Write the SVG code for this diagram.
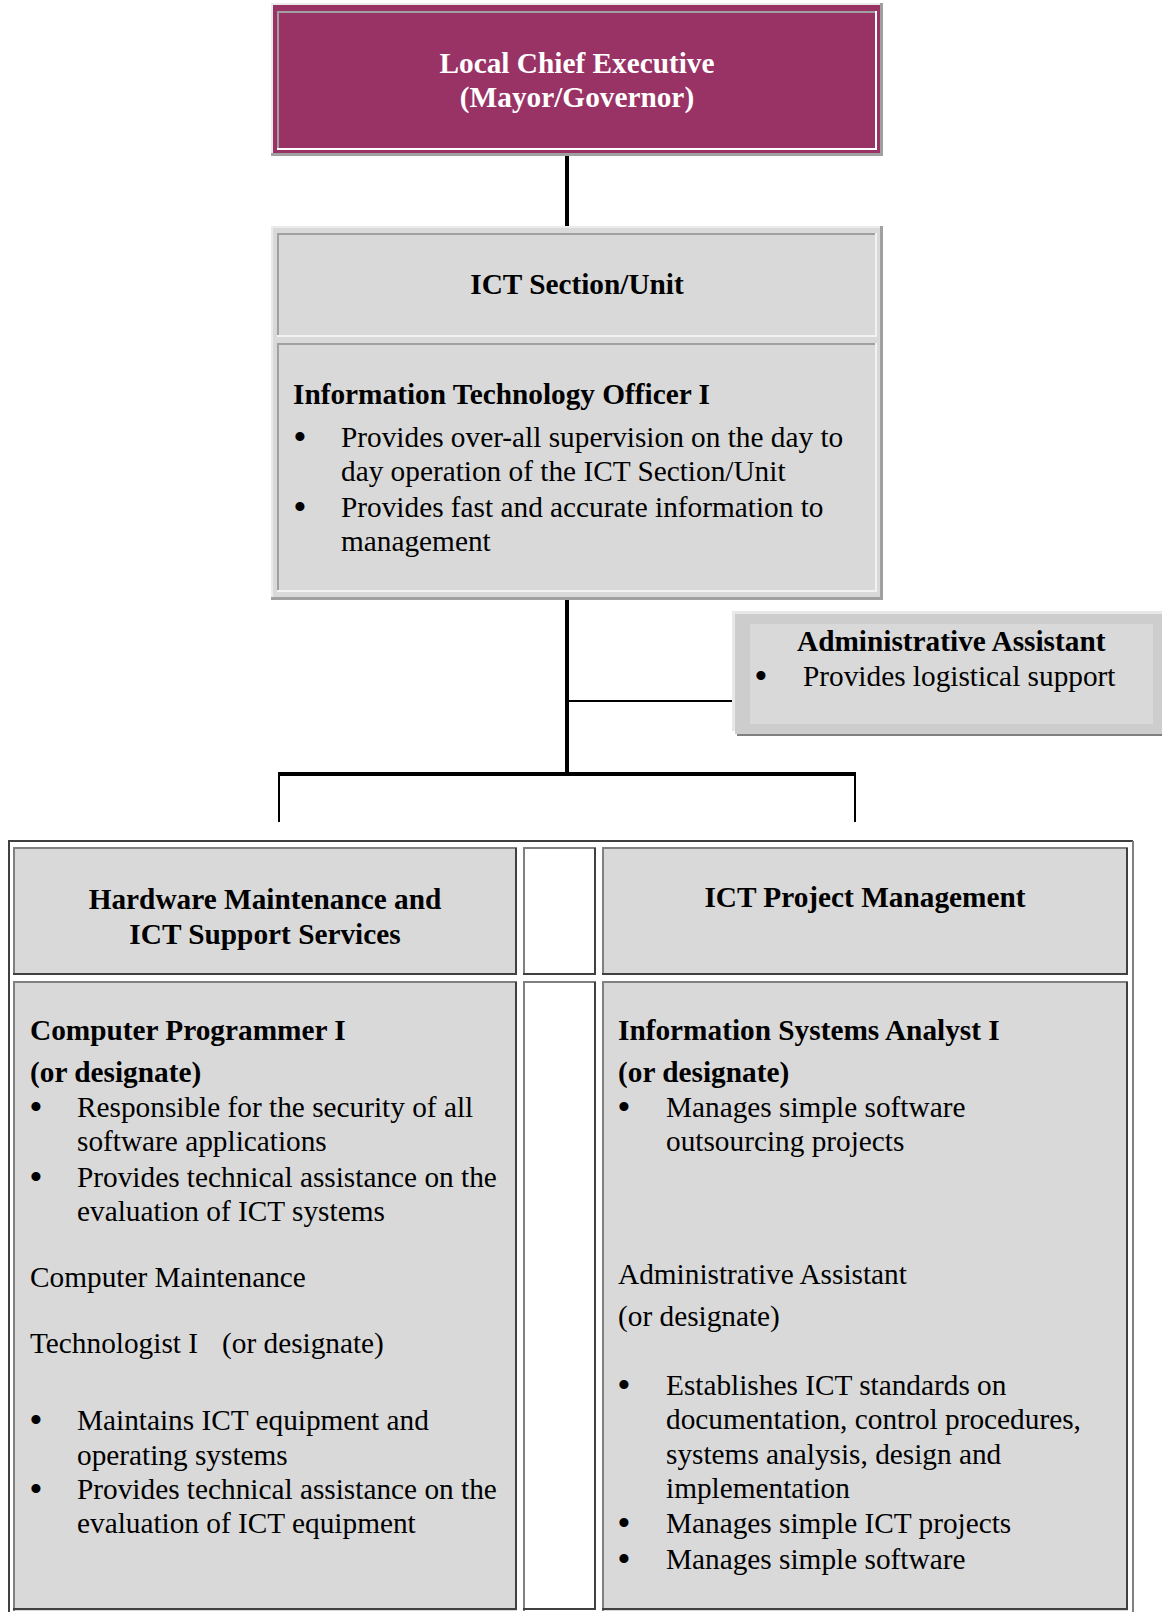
<svg xmlns="http://www.w3.org/2000/svg" width="1162" height="1612" viewBox="0 0 1162 1612">
<style>
.t{font-family:"Liberation Serif","Times New Roman",serif;font-size:29.3px;fill:#000}
.bu{font-family:"Liberation Serif","Times New Roman",serif;font-size:38px;fill:#000;text-anchor:middle}
.b{font-weight:bold}
.w{fill:#fff}
.c{text-anchor:middle}
.g{fill:#d9d9d9}
.hi{fill:none;stroke:#808080;stroke-width:2}
.lo{fill:none;stroke:#404040;stroke-width:2}
.con{fill:none;stroke:#000}
</style>
<rect width="1162" height="1612" fill="#fff"/>

<g id="connectors">
<line class="con" x1="567" y1="156" x2="567" y2="228" stroke-width="4"/>
<line class="con" x1="567" y1="600" x2="567" y2="776" stroke-width="4"/>
<line class="con" x1="567" y1="701" x2="735" y2="701" stroke-width="2"/>
<line class="con" x1="278" y1="774" x2="856" y2="774" stroke-width="4"/>
<line class="con" x1="279" y1="772" x2="279" y2="822" stroke-width="2"/>
<line class="con" x1="855" y1="772" x2="855" y2="822" stroke-width="2"/>
</g>

<g id="lce">
<rect x="271" y="3" width="612" height="153" fill="#a0a0a0"/>
<rect x="271" y="3" width="609" height="150" fill="#ebebeb"/>
<rect x="273" y="5" width="607" height="148" fill="#993366"/>
<rect x="277" y="11" width="600" height="139" fill="#fff"/>
<rect x="277" y="11" width="598" height="137" fill="#a0a0a0"/>
<rect x="279" y="13" width="596" height="135" fill="#993366"/>
<text class="t b w c" x="577" y="73">Local Chief Executive</text>
<text class="t b w c" x="577" y="107">(Mayor/Governor)</text>
</g>

<g id="ict">
<rect x="271" y="226" width="612" height="374" fill="#a0a0a0"/>
<rect x="271" y="226" width="609" height="371" fill="#ebebeb"/>
<rect x="273" y="228" width="607" height="369" fill="#d9d9d9"/>
<rect x="277" y="233" width="600" height="104" fill="#f2f2f2"/>
<rect x="277" y="233" width="598" height="102" fill="#a0a0a0"/>
<rect x="279" y="235" width="596" height="100" fill="#d9d9d9"/>
<rect x="277" y="343" width="600" height="249" fill="#f2f2f2"/>
<rect x="277" y="343" width="598" height="247" fill="#a0a0a0"/>
<rect x="279" y="345" width="596" height="245" fill="#d9d9d9"/>
<text class="t b c" x="577" y="294">ICT Section/Unit</text>
<text class="t b" x="293" y="404">Information Technology Officer I</text>
<text class="bu" x="300" y="450">•</text>
<text class="t" x="341" y="447">Provides over-all supervision on the day to</text>
<text class="t" x="341" y="481">day operation of the ICT Section/Unit</text>
<text class="bu" x="300" y="520">•</text>
<text class="t" x="341" y="517">Provides fast and accurate information to</text>
<text class="t" x="341" y="551">management</text>
</g>

<g id="admin">
<rect x="732" y="611" width="430" height="120" fill="#e8e8e8"/>
<rect x="737" y="616" width="425" height="120" fill="#808080"/>
<rect x="735" y="614" width="427" height="120" fill="#cdcdcd"/>
<rect x="750" y="624" width="403" height="100" fill="#d9d9d9"/>
<text class="t b" x="797" y="651">Administrative Assistant</text>
<text class="bu" x="761" y="689">•</text>
<text class="t" x="803" y="686">Provides logistical support</text>
</g>

<g id="table">
<path class="lo" d="M9 1612 V841 H1133"/>
<path class="hi" d="M1133 841 V1612"/>
</g>

<g id="hw-head">
<rect class="g" x="13" y="847" width="504" height="128"/>
<path class="hi" d="M14 975 V848 H517"/>
<path class="lo" d="M516 848 V974 H13"/>
<text class="t b c" x="265" y="909">Hardware Maintenance and</text>
<text class="t b c" x="265" y="944">ICT Support Services</text>
</g>

<g id="mid-head">
<rect x="523" y="847" width="73" height="128" fill="#fff"/>
<path class="hi" d="M524 975 V848 H596"/>
<path class="lo" d="M595 848 V974 H523"/>
</g>

<g id="pm-head">
<rect class="g" x="602" y="847" width="526" height="128"/>
<path class="hi" d="M603 975 V848 H1128"/>
<path class="lo" d="M1127 848 V974 H602"/>
<text class="t b c" x="865" y="907">ICT Project Management</text>
</g>

<g id="hw-body">
<rect class="g" x="13" y="981" width="504" height="630"/>
<path class="hi" d="M14 1611 V982 H517"/>
<path class="lo" d="M516 982 V1609 H13"/>
<text class="t b" x="30" y="1040">Computer Programmer I</text>
<text class="t b" x="30" y="1082">(or designate)</text>
<text class="bu" x="36" y="1120">•</text>
<text class="t" x="77" y="1117">Responsible for the security of all</text>
<text class="t" x="77" y="1151">software applications</text>
<text class="bu" x="36" y="1190">•</text>
<text class="t" x="77" y="1187">Provides technical assistance on the</text>
<text class="t" x="77" y="1221">evaluation of ICT systems</text>
<text class="t" x="30" y="1287">Computer Maintenance</text>
<text class="t" x="30" y="1353">Technologist I</text>
<text class="t" x="222" y="1353">(or designate)</text>
<text class="bu" x="36" y="1433">•</text>
<text class="t" x="77" y="1430">Maintains ICT equipment and</text>
<text class="t" x="77" y="1465">operating systems</text>
<text class="bu" x="36" y="1502">•</text>
<text class="t" x="77" y="1499">Provides technical assistance on the</text>
<text class="t" x="77" y="1533">evaluation of ICT equipment</text>
</g>

<g id="mid-body">
<rect x="523" y="981" width="73" height="630" fill="#fff"/>
<path class="hi" d="M524 1611 V982 H596"/>
<path class="lo" d="M595 982 V1609 H523"/>
</g>

<g id="pm-body">
<rect class="g" x="602" y="981" width="526" height="630"/>
<path class="hi" d="M603 1611 V982 H1128"/>
<path class="lo" d="M1127 982 V1609 H602"/>
<text class="t b" x="618" y="1040">Information Systems Analyst I</text>
<text class="t b" x="618" y="1082">(or designate)</text>
<text class="bu" x="624" y="1120">•</text>
<text class="t" x="666" y="1117">Manages simple software</text>
<text class="t" x="666" y="1151">outsourcing projects</text>
<text class="t" x="618" y="1284">Administrative Assistant</text>
<text class="t" x="618" y="1326">(or designate)</text>
<text class="bu" x="624" y="1398">•</text>
<text class="t" x="666" y="1395">Establishes ICT standards on</text>
<text class="t" x="666" y="1429">documentation, control procedures,</text>
<text class="t" x="666" y="1464">systems analysis, design and</text>
<text class="t" x="666" y="1498">implementation</text>
<text class="bu" x="624" y="1536">•</text>
<text class="t" x="666" y="1533">Manages simple ICT projects</text>
<text class="bu" x="624" y="1572">•</text>
<text class="t" x="666" y="1569">Manages simple software</text>
</g>
</svg>
